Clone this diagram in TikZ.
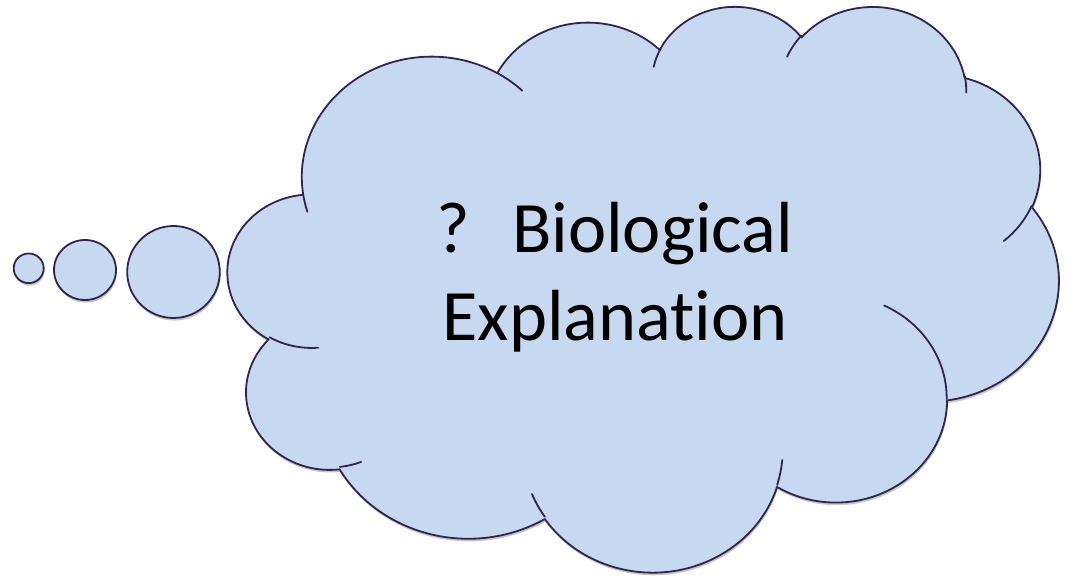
\documentclass[tikz,border=0pt]{standalone}
\usepackage{fontspec}
\setmainfont{Carlito}[Ligatures=NoCommon]
\usetikzlibrary{shadows}
\definecolor{cloudfillc}{HTML}{C6D9F1}
\definecolor{cloudlinec}{HTML}{302450}
\tikzset{
  ooarc/.style n args={4}{x radius=#1, y radius=#2,
    start angle={atan2((#1)*sin(#3),(#2)*cos(#3))},
    delta angle={mod(atan2((#1)*sin((#3)+(#4)),(#2)*cos((#3)+(#4)))-atan2((#1)*sin(#3),(#2)*cos(#3))+540,360)-180}},
  shadowed/.style={drop shadow={shadow xshift=0.4pt, shadow yshift=-1.3pt, opacity=0.22, fill=black}},
  cloudshape/.style={fill=cloudfillc, draw=cloudlinec, line width=0.9pt, line join=round, shadowed},
  cloudtick/.style={draw=cloudlinec, line width=0.9pt, line cap=round},
  bubble/.style={fill=cloudfillc, draw=cloudlinec, line width=0.9pt, shadowed},
  bigtext/.style={font=\fontsize{36.2}{43.5}\selectfont, text=black, anchor=base, inner sep=0pt}
}
\begin{document}
\begin{tikzpicture}[x=0.5pt, y=-0.5pt]
\useasboundingbox (0,0) rectangle (1072,577);
% thought bubbles
\coordinate (c1) at (28.7,268.3);
\coordinate (c2) at (85,270);
\coordinate (c3) at (173.5,272);
\path[bubble] (c1) ellipse [x radius=15, y radius=14.8];
\path[bubble] (c2) ellipse [x radius=31, y radius=30];
\path[bubble] (c3) ellipse [x radius=46.3, y radius=46];
% cloud (preset geometry in 43200 x 43200 units)
\begin{scope}[shift={(228,5)}, x={(0.0096181pt,0pt)}, y={(0pt,-0.0065394pt)}]
\path[cloudshape] (3900,14370)
  arc[ooarc={6753}{9190}{-190.48748}{123.78053}]
  arc[ooarc={5333}{7267}{-144.10238}{89.94523}]
  arc[ooarc={4365}{5945}{-145.80792}{99.72302}]
  arc[ooarc={4857}{6595}{-130.98607}{117.24173}]
  arc[ooarc={5333}{7273}{-78.70888}{109.02692}]
  arc[ooarc={6775}{9220}{-46.26725}{130.269}]
  arc[ooarc={5785}{7867}{0.62502}{114.03333}]
  arc[ooarc={6752}{9215}{22.4516}{115.17255}]
  arc[ooarc={7720}{10543}{66.24263}{75.71102}]
  arc[ooarc={4360}{5918}{-274.94208}{146.73557}]
  arc[ooarc={4345}{5945}{-246.8285}{152.51885}]
  -- cycle;
\path[cloudtick] (4693,26177) arc[ooarc={4345}{5945}{86.742}{26.4295}];
\path[cloudtick] (6928,34899) arc[ooarc={4360}{5918}{73.61047}{11.44747}];
\path[cloudtick] (16478,39090) arc[ooarc={6752}{9215}{137.62415}{14.0811}];
\path[cloudtick] (28827,34751) arc[ooarc={6752}{9215}{6.45327}{15.99835}];
\path[cloudtick] (34129,22954) arc[ooarc={5785}{7867}{-70.29235}{70.91737}];
\path[cloudtick] (41798,15354) arc[ooarc={5333}{7273}{30.31803}{27.7515}];
\path[cloudtick] (38324,5426) arc[ooarc={4857}{6595}{-13.74433}{14.8589}];
\path[cloudtick] (29078,3952) arc[ooarc={4857}{6595}{-149.18145}{18.19537}];
\path[cloudtick] (22141,4720) arc[ooarc={4365}{5945}{-163.49427}{17.68635}];
\path[cloudtick] (14000,5192) arc[ooarc={6753}{9190}{-66.70695}{12.31935}];
\path[cloudtick] (4127,15789) arc[ooarc={6753}{9190}{157.65435}{11.85817}];
\end{scope}
% text
\node[bigtext] (line1) at (615,252.5) {?\hspace{21pt}Biological};
\node[bigtext] (line2) at (615,341) {Explanation};
\end{tikzpicture}
\end{document}
